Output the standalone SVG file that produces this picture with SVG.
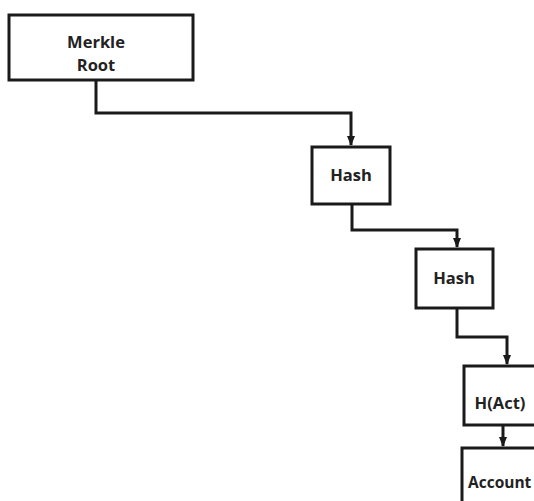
<svg xmlns="http://www.w3.org/2000/svg" width="534" height="501" viewBox="0 0 534 501">
<style>
.box{fill:#fff;stroke:#1a1a1a;stroke-width:3}
.lbl{font-family:"Open Sans","Noto Sans",sans-serif;font-weight:bold;font-size:16.5px;fill:#222;text-anchor:middle}
.conn{fill:none;stroke:#1a1a1a;stroke-width:3}
</style>
<defs>
<marker id="arr" markerWidth="10" markerHeight="8" refX="9" refY="4" orient="auto" markerUnits="userSpaceOnUse">
<path d="M0,0 L10,4 L0,8 Z" fill="#1a1a1a"/>
</marker>
</defs>
<rect width="534" height="501" fill="#fff"/>
<g id="connectors">
<path class="conn" d="M96,80 V113 H351 V145" marker-end="url(#arr)"/>
<path class="conn" d="M352,204 V230 H457 V247" marker-end="url(#arr)"/>
<path class="conn" d="M457,308 V337 H507 V364" marker-end="url(#arr)"/>
<path class="conn" d="M503,425 V446" marker-end="url(#arr)"/>
</g>
<g id="merkle-root">
<rect class="box" x="9" y="15" width="184" height="65"/>
<text class="lbl" x="96" y="48">Merkle</text>
<text class="lbl" x="96" y="71">Root</text>
</g>
<g id="hash1">
<rect class="box" x="312" y="147" width="78" height="57"/>
<text class="lbl" x="351" y="181">Hash</text>
</g>
<g id="hash2">
<rect class="box" x="416" y="249" width="77" height="59"/>
<text class="lbl" x="454" y="284">Hash</text>
</g>
<g id="hact">
<rect class="box" x="464" y="366" width="76" height="59"/>
<text class="lbl" x="500" y="409">H(Act)</text>
</g>
<g id="account">
<rect class="box" x="462" y="448" width="90" height="70"/>
<text class="lbl" x="468" y="488" style="text-anchor:start;font-size:15.5px">Account</text>
</g>
</svg>
